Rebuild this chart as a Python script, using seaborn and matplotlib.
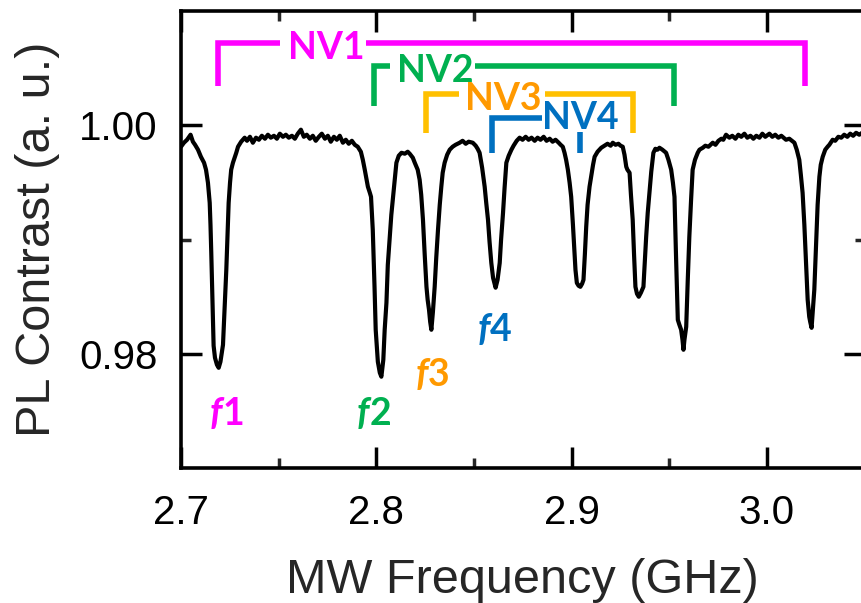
import matplotlib
matplotlib.use("Agg")
import matplotlib.pyplot as plt
import seaborn as sns
import pandas as pd

# ---- data (MW frequency in GHz, PL contrast) ----
freq_ghz = [
    2.7000, 2.7015, 2.7031, 2.7049, 2.7061, 2.7072, 2.7087, 2.7102, 2.7118, 2.7128, 2.7138, 2.7147, 2.7151, 2.7155, 2.7161, 2.7167, 2.7174, 2.7184, 2.7193, 2.7202, 2.7210, 2.7215, 2.7223, 2.7232, 2.7238, 2.7244, 2.7251, 2.7257, 2.7266, 2.7283, 2.7292, 2.7308, 2.7326,
    2.7338, 2.7353, 2.7368, 2.7384, 2.7399, 2.7414, 2.7430, 2.7445, 2.7460, 2.7476, 2.7491, 2.7506, 2.7522, 2.7537, 2.7552, 2.7568, 2.7583, 2.7598, 2.7614, 2.7629, 2.7644, 2.7660, 2.7675, 2.7690, 2.7706, 2.7721, 2.7737, 2.7752, 2.7767, 2.7783, 2.7798, 2.7813, 2.7829, 2.7844, 2.7859, 2.7875, 2.7890,
    2.7905, 2.7921, 2.7931, 2.7941, 2.7957, 2.7967, 2.7973, 2.7982, 2.7991, 2.7997, 2.8008, 2.8018, 2.8026, 2.8036, 2.8043, 2.8052, 2.8059, 2.8069, 2.8077, 2.8086, 2.8095, 2.8103, 2.8115, 2.8129, 2.8146, 2.8161, 2.8171, 2.8187, 2.8197, 2.8212, 2.8222, 2.8230, 2.8239, 2.8248, 2.8257, 2.8263, 2.8270, 2.8276, 2.8282, 2.8290, 2.8299, 2.8307, 2.8316, 2.8325, 2.8333, 2.8340, 2.8350, 2.8363, 2.8376, 2.8391, 2.8406,
    2.8427, 2.8442, 2.8458, 2.8473, 2.8494, 2.8509, 2.8519, 2.8529, 2.8542, 2.8555, 2.8563, 2.8572, 2.8580, 2.8589, 2.8598, 2.8611, 2.8621, 2.8632, 2.8639, 2.8649, 2.8657, 2.8666, 2.8678, 2.8692, 2.8703, 2.8719, 2.8734, 2.8749, 2.8765, 2.8780, 2.8795, 2.8811, 2.8826, 2.8841, 2.8857, 2.8872, 2.8888, 2.8903, 2.8918, 2.8934, 2.8944, 2.8955, 2.8964, 2.8972, 2.8981, 2.8990, 2.8998, 2.9007, 2.9015, 2.9020, 2.9027, 2.9036, 2.9045, 2.9054, 2.9061, 2.9068, 2.9075, 2.9082, 2.9092, 2.9102, 2.9110, 2.9118, 2.9133, 2.9152, 2.9169, 2.9184, 2.9200, 2.9211, 2.9225, 2.9240, 2.9251, 2.9262,
    2.9271, 2.9280, 2.9286, 2.9297, 2.9304, 2.9313, 2.9320, 2.9327, 2.9335, 2.9344, 2.9355, 2.9368, 2.9375, 2.9382, 2.9390, 2.9399, 2.9408, 2.9419, 2.9429, 2.9440, 2.9450, 2.9465, 2.9484, 2.9496, 2.9510, 2.9519, 2.9527, 2.9534, 2.9544, 2.9552, 2.9561, 2.9568, 2.9573, 2.9578, 2.9587, 2.9595, 2.9603, 2.9612, 2.9620, 2.9632, 2.9646, 2.9655, 2.9672, 2.9685, 2.9701,
    2.9723, 2.9737, 2.9752, 2.9767, 2.9777, 2.9791, 2.9808, 2.9823, 2.9839, 2.9854, 2.9869, 2.9885, 2.9900, 2.9916, 2.9931, 2.9946, 2.9962, 2.9977, 2.9992, 3.0013, 3.0028, 3.0043, 3.0059, 3.0074, 3.0098, 3.0115, 3.0141, 3.0153, 3.0166, 3.0174, 3.0183, 3.0192, 3.0200, 3.0209, 3.0217, 3.0222, 3.0229, 3.0235, 3.0243, 3.0248, 3.0252, 3.0260, 3.0269, 3.0276, 3.0286, 3.0299, 3.0311, 3.0320, 3.0337, 3.0350, 3.0366, 3.0381, 3.0396, 3.0412, 3.0427, 3.0442, 3.0457, 3.0473, 3.0488,
]
contrast = [
    0.99812, 0.99847, 0.99873, 0.99917, 0.99856, 0.99829, 0.99786, 0.99724, 0.99672, 0.99611, 0.99497, 0.99321, 0.99129, 0.98883, 0.98473, 0.98070, 0.97965, 0.97904, 0.97877, 0.97930, 0.98018, 0.98078, 0.98385, 0.98734, 0.99042, 0.99321, 0.99497, 0.99611, 0.99672, 0.99759, 0.99812, 0.99856, 0.99891,
    0.99864, 0.99899, 0.99847, 0.99891, 0.99873, 0.99908, 0.99882, 0.99917, 0.99891, 0.99908, 0.99882, 0.99926, 0.99899, 0.99917, 0.99891, 0.99908, 0.99882, 0.99926, 0.99961, 0.99899, 0.99917, 0.99882, 0.99908, 0.99864, 0.99899, 0.99926, 0.99882, 0.99908, 0.99856, 0.99899, 0.99873, 0.99908, 0.99847, 0.99873, 0.99838, 0.99864, 0.99829,
    0.99812, 0.99768, 0.99698, 0.99611, 0.99462, 0.99409, 0.99374, 0.99085, 0.98586, 0.98210, 0.97930, 0.97834, 0.97799, 0.97947, 0.98210, 0.98446, 0.98778, 0.99024, 0.99216, 0.99374, 0.99541, 0.99672, 0.99733, 0.99759, 0.99751, 0.99768, 0.99751, 0.99716, 0.99672, 0.99611, 0.99523, 0.99392, 0.99173, 0.98866, 0.98586, 0.98473, 0.98385, 0.98279, 0.98210, 0.98367, 0.98586, 0.98839, 0.99085, 0.99304, 0.99462, 0.99584, 0.99672, 0.99742, 0.99786, 0.99812, 0.99829,
    0.99847, 0.99864, 0.99838, 0.99856, 0.99847, 0.99821, 0.99794, 0.99759, 0.99628, 0.99462, 0.99321, 0.99173, 0.98980, 0.98795, 0.98665, 0.98578, 0.98647, 0.98795, 0.98998, 0.99234, 0.99453, 0.99672, 0.99733, 0.99786, 0.99821, 0.99864, 0.99891, 0.99873, 0.99899, 0.99873, 0.99891, 0.99864, 0.99891, 0.99873, 0.99899, 0.99864, 0.99882, 0.99856, 0.99873, 0.99847, 0.99829, 0.99812, 0.99759, 0.99698, 0.99611, 0.99497, 0.99374, 0.99129, 0.98883, 0.98734, 0.98620, 0.98595, 0.98586, 0.98613, 0.98647, 0.98866, 0.99112, 0.99304, 0.99462, 0.99567, 0.99654, 0.99724, 0.99768, 0.99803, 0.99821, 0.99838, 0.99821, 0.99847, 0.99829, 0.99838, 0.99821, 0.99812,
    0.99742, 0.99637, 0.99611, 0.99584, 0.99392, 0.99173, 0.98866, 0.98586, 0.98525, 0.98499, 0.98534, 0.98586, 0.98804, 0.99024, 0.99234, 0.99409, 0.99593, 0.99759, 0.99794, 0.99786, 0.99803, 0.99786, 0.99759, 0.99698, 0.99611, 0.99497, 0.99374, 0.98910, 0.98297, 0.98254, 0.98210, 0.98122, 0.98035, 0.98122, 0.98236, 0.98647, 0.99024, 0.99348, 0.99611, 0.99698, 0.99759, 0.99786, 0.99803, 0.99821, 0.99812,
    0.99847, 0.99829, 0.99864, 0.99882, 0.99873, 0.99917, 0.99891, 0.99908, 0.99882, 0.99917, 0.99899, 0.99926, 0.99891, 0.99908, 0.99882, 0.99908, 0.99891, 0.99926, 0.99899, 0.99926, 0.99899, 0.99917, 0.99891, 0.99908, 0.99873, 0.99882, 0.99847, 0.99786, 0.99698, 0.99567, 0.99409, 0.99129, 0.98823, 0.98473, 0.98324, 0.98279, 0.98227, 0.98367, 0.98560, 0.98778, 0.98971, 0.99304, 0.99549, 0.99654, 0.99724, 0.99786, 0.99812, 0.99829, 0.99873, 0.99864, 0.99899, 0.99891, 0.99917, 0.99899, 0.99926, 0.99908, 0.99934, 0.99917, 0.99934,
]
assert len(freq_ghz) == len(contrast)

xtick_values = [2.7, 2.8, 2.9, 3.0]
xtick_labels = ["2.7", "2.8", "2.9", "3.0"]
xminor_values = [2.75, 2.85, 2.95]
ytick_values = [0.98, 1.00]
ytick_labels = ["0.98", "1.00"]
yminor_values = [0.99]

# NV centre resonance pairs (lower / upper dip frequency, GHz)
nv_names = ["NV1", "NV2", "NV3", "NV4"]
nv_low = [2.7192, 2.7986, 2.8253, 2.8591]
nv_high = [3.0197, 2.9527, 2.9312, 2.9041]
f_names = ["1", "2", "3", "4"]

bracket_colors = ["#FF00FF", "#00B050", "#FFC000", "#0070C0"]
text_colors = ["#FF00FF", "#00B050", "#FF9900", "#0070C0"]

# ---- style ----
sns.set_theme(style="ticks")
plt.rcParams["font.family"] = ["Liberation Sans", "DejaVu Sans"]
LABEL_FONT = ["Lato", "DejaVu Sans"]

fig = plt.figure(figsize=(8.62, 6.03), dpi=100)
ax = fig.add_axes([181 / 862, 135 / 603, 683.5 / 862, 457 / 603])

df = pd.DataFrame({"freq": freq_ghz, "pl": contrast})
sns.lineplot(data=df, x="freq", y="pl", ax=ax, color="black", linewidth=3.0,
             sort=False, estimator=None)

ax.set_xlim(2.70, 3.05)
ax.set_ylim(0.970, 1.010)
ax.set_xticks(xtick_values)
ax.set_xticklabels(xtick_labels)
ax.set_xticks(xminor_values, minor=True)
ax.set_yticks(ytick_values)
ax.set_yticklabels(ytick_labels)
ax.set_yticks(yminor_values, minor=True)
ax.set_xlabel("")
ax.set_ylabel("")

for s in ax.spines.values():
    s.set_visible(True)
    s.set_linewidth(2.6)
    s.set_color("black")

ax.tick_params(which="major", direction="in", length=15, width=2.5,
               top=True, right=True, labelsize=29, colors="black")
ax.tick_params(which="minor", direction="in", length=7.5, width=2.5,
               top=True, right=True)
ax.tick_params(axis="x", which="major", pad=19)
ax.tick_params(axis="y", which="major", pad=17)

# ---- NV brackets ----
top_levels = [1.00719, 1.00515, 1.00276, 1.00066]
leg_bottoms = [1.00346, 1.00165, 0.99934, 0.99759]
gaps = [(2.7506, 2.7946), (2.8069, 2.8504), (2.8422, 2.8862), (2.8847, None)]
text_x = [2.7742, 2.8304, 2.8652, 2.9043]
text_base = [1.00582, 1.00381, 1.00136, 0.99969]
blw = 4.0
for i in range(4):
    c = bracket_colors[i]
    lo, hi = nv_low[i], nv_high[i]
    top, bot = top_levels[i], leg_bottoms[i]
    g0, g1 = gaps[i]
    ax.plot([lo, lo, g0], [bot, top, top], color=c, lw=blw,
            solid_joinstyle="miter", solid_capstyle="butt")
    if g1 is not None:
        ax.plot([g1, hi, hi], [top, top, bot], color=c, lw=blw,
                solid_joinstyle="miter", solid_capstyle="butt")
    else:
        ax.plot([hi, hi], [0.99943, bot], color=c, lw=blw, solid_capstyle="butt")
    ax.text(text_x[i], text_base[i], nv_names[i], color=text_colors[i],
            fontsize=27, fontweight="bold", family=LABEL_FONT,
            ha="center", va="baseline")

# ---- f labels ----
f_x = [2.7212, 2.7964, 2.8265, 2.8582]
f_base = [0.97378, 0.97378, 0.97714, 0.98108]
for i in range(4):
    ax.text(f_x[i], f_base[i], "f", color=text_colors[i], fontsize=27,
            fontweight="bold", fontstyle="italic", family=LABEL_FONT,
            ha="right", va="baseline")
    ax.text(f_x[i], f_base[i], f_names[i], color=text_colors[i], fontsize=27,
            fontweight="bold", family=LABEL_FONT, ha="left", va="baseline")

# ---- axis labels ----
fig.text(522 / 862, 1 - 593 / 603, "MW Frequency (GHz)", fontsize=35,
         ha="center", va="baseline")
fig.text(38 / 862, 1 - 239.5 / 603, "PL Contrast (a. u.)", fontsize=35,
         rotation=90, ha="center", va="center")

fig.savefig("out.png", dpi=100)
